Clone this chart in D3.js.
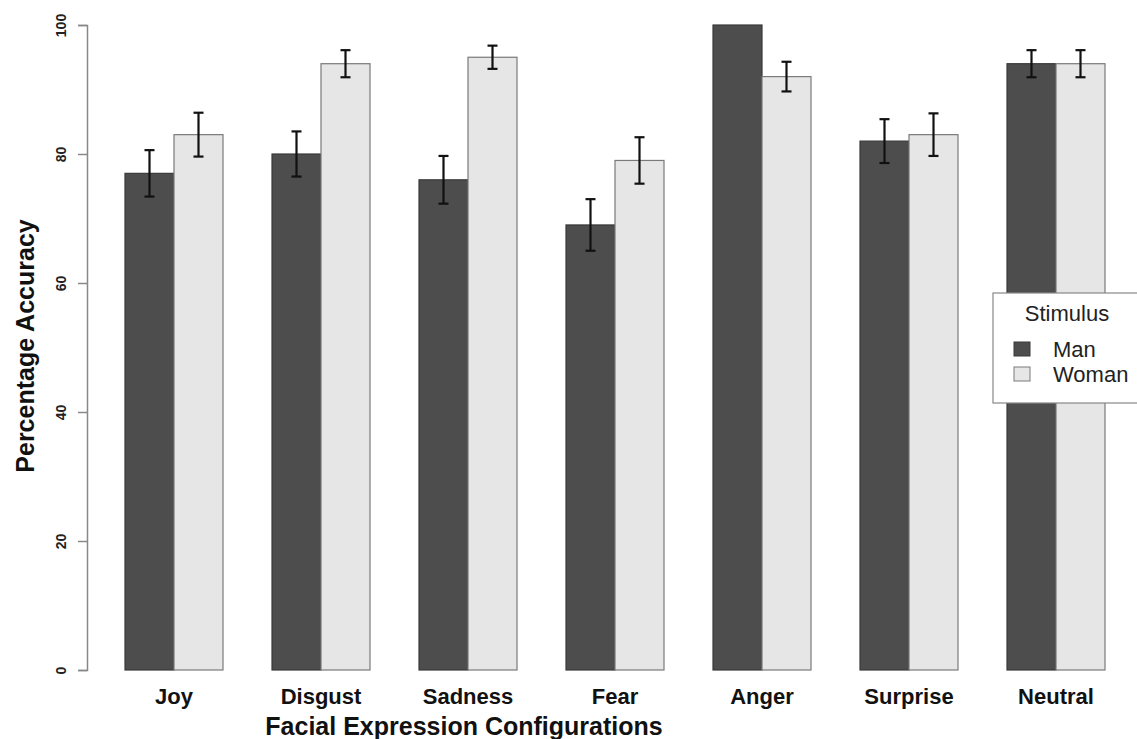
<!DOCTYPE html>
<html>
<head>
<meta charset="utf-8">
<script src="https://cdn.jsdelivr.net/npm/d3@7"></script>
<style>
  body { margin: 0; background: #fff; }
  svg { display: block; font-family: "Liberation Sans", Arial, sans-serif; }
</style>
</head>
<body>
<svg id="chart" width="1137" height="739"></svg>
<script>
// data
const categories = ['Joy', 'Disgust', 'Sadness', 'Fear', 'Anger', 'Surprise', 'Neutral'];
const groups = ['Man', 'Woman'];
const manValues = [77, 80, 76, 69, 100, 82, 94];
const womanValues = [83, 94, 95, 79, 92, 83, 94];
const manErrors = [3.6, 3.5, 3.7, 4.0, 0, 3.4, 2.1];
const womanErrors = [3.4, 2.1, 1.8, 3.6, 2.3, 3.3, 2.1];
const yTicks = [0, 20, 40, 60, 80, 100];

const fills = { Man: '#4d4d4d', Woman: '#e6e6e6' };
const strokes = { Man: '#3a3a3a', Woman: '#7a7a7a' };

const svg = d3.select('#chart');

// bar units like R barplot(beside=TRUE): width 1, gap 1 before each group
const x = d3.scaleLinear().domain([0, 21]).range([76, 1105]);
const y = d3.scaleLinear().domain([0, 100]).range([670, 25]);

const rows = [];
categories.forEach((c, i) => {
  rows.push({ cat: c, grp: 'Man', pos: 1 + 3 * i, v: manValues[i], e: manErrors[i] });
  rows.push({ cat: c, grp: 'Woman', pos: 2 + 3 * i, v: womanValues[i], e: womanErrors[i] });
});

// bars
svg.append('g')
  .selectAll('rect')
  .data(rows)
  .enter()
  .append('rect')
  .attr('x', d => x(d.pos))
  .attr('y', d => y(d.v))
  .attr('width', x(1) - x(0))
  .attr('height', d => y(0) - y(d.v))
  .attr('fill', d => fills[d.grp])
  .attr('stroke', d => strokes[d.grp])
  .attr('stroke-width', 1.2);

// error bars
const eb = svg.append('g')
  .attr('stroke', '#111')
  .attr('stroke-width', 2.2)
  .selectAll('g')
  .data(rows.filter(d => d.e > 0))
  .enter()
  .append('g');

const cx = d => x(d.pos + 0.5);
eb.append('line')
  .attr('x1', cx).attr('x2', cx)
  .attr('y1', d => y(d.v + d.e)).attr('y2', d => y(d.v - d.e));
eb.append('line')
  .attr('x1', d => cx(d) - 5).attr('x2', d => cx(d) + 5)
  .attr('y1', d => y(d.v + d.e)).attr('y2', d => y(d.v + d.e));
eb.append('line')
  .attr('x1', d => cx(d) - 5).attr('x2', d => cx(d) + 5)
  .attr('y1', d => y(d.v - d.e)).attr('y2', d => y(d.v - d.e));

// y axis
const yAxis = svg.append('g')
  .attr('transform', 'translate(87,0)')
  .call(d3.axisLeft(y).tickValues(yTicks).tickSize(9).tickPadding(0).tickFormat(d3.format('d')));
yAxis.select('.domain').attr('stroke', '#888').attr('stroke-width', 1.5);
yAxis.selectAll('.tick line').attr('stroke', '#888').attr('stroke-width', 1.5);
yAxis.selectAll('.tick text')
  .attr('x', 0)
  .attr('dy', 0)
  .attr('transform', 'translate(-21,0) rotate(-90)')
  .attr('text-anchor', 'middle')
  .attr('font-size', 14)
  .attr('font-weight', 'bold')
  .attr('font-family', '"Liberation Sans", Arial, sans-serif')
  .attr('fill', '#222');

// category labels
svg.append('g')
  .selectAll('text')
  .data(categories)
  .enter()
  .append('text')
  .attr('x', (d, i) => x(2 + 3 * i))
  .attr('y', 704)
  .attr('text-anchor', 'middle')
  .attr('font-size', 22)
  .attr('font-weight', 'bold')
  .attr('fill', '#111')
  .text(d => d);

// axis titles
svg.append('text')
  .attr('x', 464)
  .attr('y', 735)
  .attr('text-anchor', 'middle')
  .attr('font-size', 25)
  .attr('font-weight', 'bold')
  .attr('fill', '#111')
  .text('Facial Expression Configurations');

svg.append('text')
  .attr('transform', 'translate(34,346) rotate(-90)')
  .attr('text-anchor', 'middle')
  .attr('font-size', 25)
  .attr('font-weight', 'bold')
  .attr('fill', '#111')
  .text('Percentage Accuracy');

// legend
const legend = svg.append('g').attr('transform', 'translate(993,293)');
legend.append('rect')
  .attr('width', 150).attr('height', 110)
  .attr('fill', '#fff').attr('stroke', '#888').attr('stroke-width', 1.2);
legend.append('text')
  .attr('x', 74).attr('y', 28)
  .attr('text-anchor', 'middle')
  .attr('font-size', 22)
  .attr('fill', '#222')
  .text('Stimulus');
const li = legend.selectAll('g.item')
  .data(groups)
  .enter()
  .append('g')
  .attr('class', 'item')
  .attr('transform', (d, i) => `translate(0,${56 + i * 25})`);
li.append('rect')
  .attr('x', 21).attr('y', -7).attr('width', 16).attr('height', 14)
  .attr('fill', d => fills[d]).attr('stroke', d => strokes[d]);
li.append('text')
  .attr('x', 60).attr('y', 8)
  .attr('font-size', 22)
  .attr('fill', '#222')
  .text(d => d);
</script>
</body>
</html>
